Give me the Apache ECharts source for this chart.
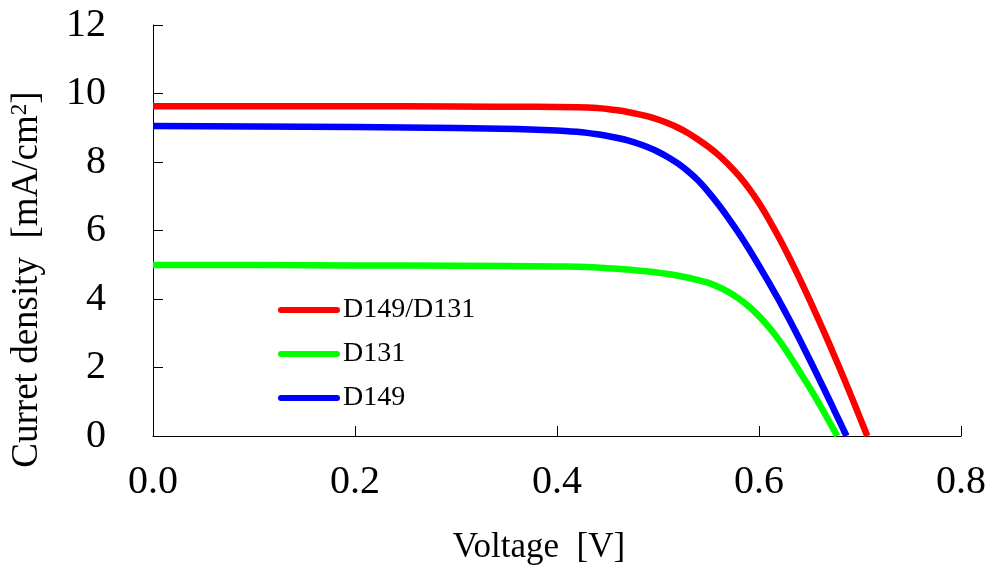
<!DOCTYPE html>
<html>
<head>
<meta charset="utf-8">
<script src="https://cdn.jsdelivr.net/npm/echarts@6/dist/echarts.min.js"></script>
<style>
  html, body { margin: 0; padding: 0; background: #fff; }
  #chart { width: 988px; height: 569px; }
</style>
</head>
<body>
<div id="chart"></div>
<script>
// J–V curves of three dye-sensitized cells
const seriesNames = ['D149/D131', 'D131', 'D149'];
const seriesColors = ['#ff0000', '#00ff00', '#0000ff'];

// D149/D131 co-sensitized
const voltageMix = [0, 0.1, 0.2, 0.3, 0.38, 0.42, 0.44, 0.45, 0.46, 0.47, 0.48, 0.49, 0.50, 0.51, 0.52, 0.53, 0.54, 0.55, 0.56, 0.57, 0.58, 0.59, 0.60, 0.61, 0.62, 0.63, 0.64, 0.65, 0.66, 0.67, 0.68, 0.69, 0.70, 0.7072];
const currentMix = [9.63, 9.63, 9.63, 9.62, 9.61, 9.60, 9.58, 9.55, 9.51, 9.46, 9.40, 9.33, 9.24, 9.13, 9.00, 8.84, 8.65, 8.44, 8.20, 7.92, 7.60, 7.23, 6.80, 6.31, 5.78, 5.21, 4.61, 3.98, 3.33, 2.66, 1.97, 1.26, 0.53, 0];

// D131 only
const voltageD131 = [0, 0.1, 0.2, 0.3, 0.40, 0.42, 0.44, 0.45, 0.46, 0.47, 0.48, 0.49, 0.50, 0.51, 0.52, 0.53, 0.54, 0.55, 0.56, 0.57, 0.58, 0.59, 0.60, 0.61, 0.62, 0.63, 0.64, 0.65, 0.66, 0.67, 0.6775];
const currentD131 = [4.99, 4.99, 4.98, 4.97, 4.95, 4.94, 4.92, 4.90, 4.88, 4.86, 4.83, 4.80, 4.77, 4.73, 4.68, 4.62, 4.55, 4.47, 4.35, 4.20, 4.01, 3.78, 3.50, 3.17, 2.79, 2.36, 1.89, 1.42, 0.92, 0.40, 0];

// D149 only
const voltageD149 = [0, 0.1, 0.2, 0.3, 0.36, 0.40, 0.42, 0.43, 0.44, 0.45, 0.46, 0.47, 0.48, 0.49, 0.50, 0.51, 0.52, 0.53, 0.54, 0.55, 0.56, 0.57, 0.58, 0.59, 0.60, 0.61, 0.62, 0.63, 0.64, 0.65, 0.66, 0.67, 0.68, 0.6866];
const currentD149 = [9.05, 9.04, 9.02, 8.99, 8.96, 8.92, 8.88, 8.85, 8.81, 8.76, 8.70, 8.63, 8.54, 8.43, 8.30, 8.14, 7.95, 7.72, 7.45, 7.12, 6.75, 6.35, 5.92, 5.46, 4.97, 4.47, 3.95, 3.40, 2.83, 2.24, 1.64, 1.03, 0.41, 0];

const xTicks = [0, 0.2, 0.4, 0.6, 0.8];
const yTicks = [0, 2, 4, 6, 8, 10, 12];

const pairs = (xs, ys) => xs.map((x, i) => [x, ys[i]]);
const curves = [
  pairs(voltageMix, currentMix),
  pairs(voltageD131, currentD131),
  pairs(voltageD149, currentD149)
];

const FONT = '"Liberation Serif", "Times New Roman", serif';
const pill = 'path://M3,0 L59,0 A3,3 0 0 1 59,6 L3,6 A3,3 0 0 1 3,0 Z';

const chart = echarts.init(document.getElementById('chart'), null, { renderer: 'canvas' });

chart.setOption({
  animation: false,
  backgroundColor: '#ffffff',
  grid: { left: 153, right: 27, top: 25, bottom: 133, containLabel: false, outerBoundsMode: 'none' },
  legend: {
    orient: 'vertical',
    left: 278,
    top: 296,
    padding: 0,
    itemWidth: 62,
    itemHeight: 7,
    itemGap: 16,
    icon: pill,
    data: seriesNames,
    textStyle: { fontFamily: FONT, fontSize: 28, color: '#000', padding: [0, 0, 0, -2] }
  },
  xAxis: {
    type: 'value',
    min: xTicks[0],
    max: xTicks[xTicks.length - 1],
    interval: 0.2,
    name: 'Voltage  [V]',
    nameLocation: 'middle',
    nameGap: 94,
    nameTextStyle: { fontFamily: FONT, fontSize: 35, color: '#000', padding: [0, 36, 0, 0] },
    axisLine: { show: true, onZero: false, lineStyle: { color: '#000', width: 1 } },
    axisTick: { show: true, inside: true, length: 10, lineStyle: { color: '#000', width: 1 } },
    axisLabel: { fontFamily: FONT, fontSize: 40, color: '#000', margin: 26, formatter: v => v.toFixed(1) },
    splitLine: { show: false }
  },
  yAxis: {
    type: 'value',
    min: yTicks[0],
    max: yTicks[yTicks.length - 1],
    interval: 2,
    name: 'Curret density  [mA/cm{sup|2}]',
    nameLocation: 'middle',
    nameGap: 106,
    nameTextStyle: {
      fontFamily: FONT, fontSize: 37, color: '#000', padding: [0, 98, 0, 0],
      rich: { sup: { fontFamily: FONT, fontSize: 23, color: '#000', verticalAlign: 'top', padding: [0, 0, 16, 0] } }
    },
    axisLine: { show: true, onZero: false, lineStyle: { color: '#000', width: 1 } },
    axisTick: { show: true, inside: true, length: 10, lineStyle: { color: '#000', width: 1 } },
    axisLabel: { fontFamily: FONT, fontSize: 40, color: '#000', margin: 47 },
    splitLine: { show: false }
  },
  series: curves.map((data, i) => ({
    name: seriesNames[i],
    type: 'line',
    data: data,
    smooth: 0.2,
    showSymbol: false,
    symbol: 'none',
    color: seriesColors[i],
    lineStyle: { color: seriesColors[i], width: 6.5, cap: 'butt' },
    itemStyle: { color: seriesColors[i] }
  }))
});
</script>
</body>
</html>
